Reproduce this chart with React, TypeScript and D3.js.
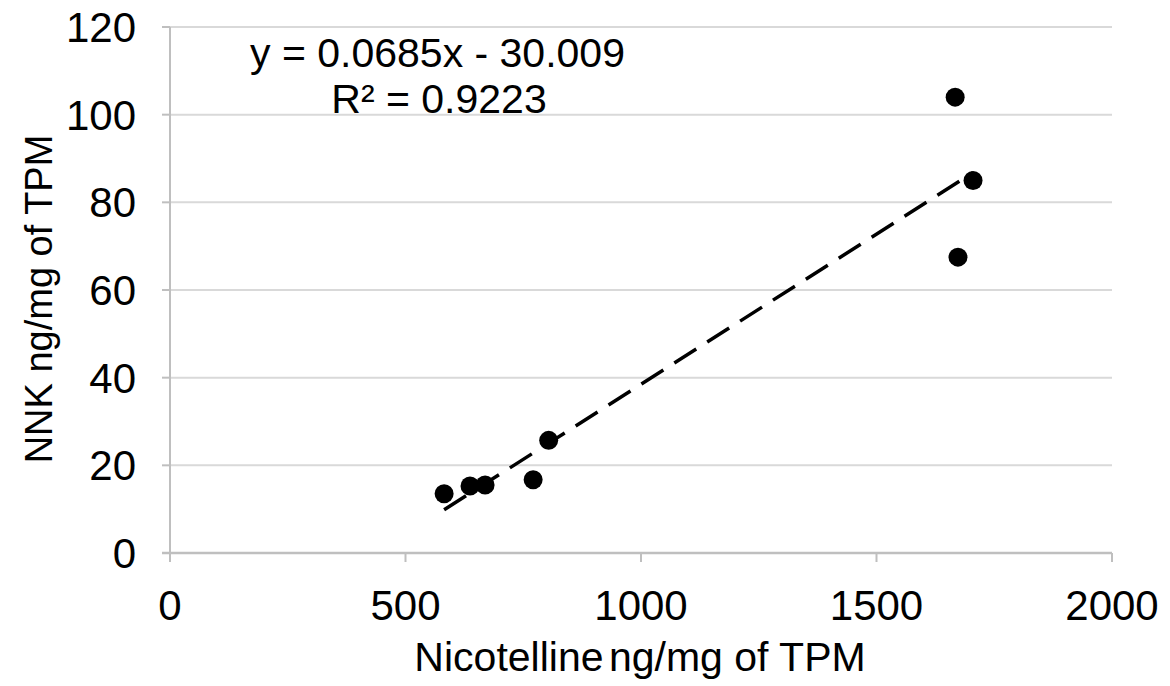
import React, { useEffect } from "react";
import * as d3 from "d3";

const nicotelline = [582, 637, 669, 771, 804, 1667, 1705, 1673];
const nnk = [13.5, 15.3, 15.5, 16.7, 25.7, 104, 85, 67.5];
const xTicks = [0, 500, 1000, 1500, 2000];
const yTicks = [0, 20, 40, 60, 80, 100, 120];
const slope = 0.0685;
const intercept = -30.009;

const W = 1170, H = 686;
const FONT = "'Liberation Sans', Arial, sans-serif";

export default function App() {
  useEffect(() => { document.body.style.margin = "0"; }, []);
  const x = d3.scaleLinear().domain([0, 2000]).range([170, 1112]);
  const y = d3.scaleLinear().domain([0, 120]).range([553, 27]);
  const xMin = d3.min(nicotelline)!;
  const xMax = d3.max(nicotelline)!;
  const line = d3.line<number>().x(d => x(d)).y(d => y(slope * d + intercept));
  return (
    <svg width={W} height={H} style={{ display: "block", background: "#fff" }} fontFamily={FONT}>
      {yTicks.filter(t => t > 0).map(t => (
        <line key={t} x1={x(0)} x2={x(2000)} y1={y(t)} y2={y(t)} stroke="#d9d9d9" strokeWidth={2} />
      ))}
      <line x1={x(0)} x2={x(0)} y1={y(120)} y2={y(0)} stroke="#bfbfbf" strokeWidth={2} />
      {yTicks.map(t => (
        <line key={t} x1={x(0) - 8} x2={x(0)} y1={y(t)} y2={y(t)} stroke="#bfbfbf" strokeWidth={2} />
      ))}
      <line x1={x(0) - 8} x2={x(2000)} y1={y(0)} y2={y(0)} stroke="#bfbfbf" strokeWidth={2.5} />
      {xTicks.map(t => (
        <line key={t} x1={x(t)} x2={x(t)} y1={y(0)} y2={y(0) + 9} stroke="#bfbfbf" strokeWidth={2} />
      ))}
      {yTicks.map(t => (
        <text key={t} x={136} y={y(t)} dy="0.36em" textAnchor="end" fontSize={42} fill="#000">{t}</text>
      ))}
      {xTicks.map(t => (
        <text key={t} x={x(t)} y={620} textAnchor="middle" fontSize={42} fill="#000">{t}</text>
      ))}
      <text x={640} y={671} textAnchor="middle" fontSize={41} fill="#000">
        <tspan>Nicotelline</tspan><tspan dx={-6}> ng/mg of TPM</tspan>
      </text>
      <text transform={`translate(52, 299) rotate(-90)`} textAnchor="middle" fontSize={38} fill="#000">NNK ng/mg of TPM</text>
      <path d={line([xMin, xMax]) ?? ""} stroke="#000" strokeWidth={3.5} fill="none" strokeDasharray="26 13" />
      {nicotelline.map((v, i) => (
        <circle key={i} cx={x(v)} cy={y(nnk[i])} r={9.5} fill="#000" />
      ))}
      <text x={250} y={67} fontSize={41} fill="#000">y = 0.0685x - 30.009</text>
      <text x={439} y={113} textAnchor="middle" fontSize={41} fill="#000">R² = 0.9223</text>
    </svg>
  );
}
